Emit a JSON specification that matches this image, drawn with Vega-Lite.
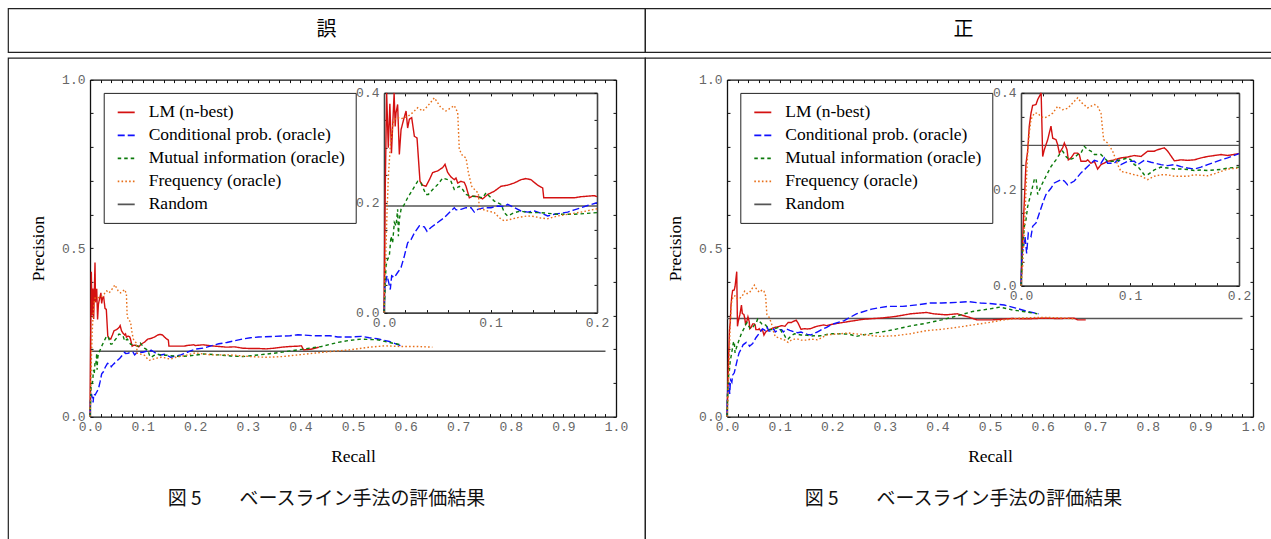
{
"$schema":"https://vega.github.io/schema/vega-lite/v6.json",
"padding":{"left":7,"top":7.4,"right":0,"bottom":0},
"config":{
 "view":{"stroke":"#222","strokeWidth":1.2},
 "font":"Liberation Serif",
 "axis":{"grid":false,"domainColor":"#111","domainWidth":1.3,"tickColor":"#111","tickWidth":1,"tickSize":-3,"labelFont":"Liberation Mono","labelFontSize":13,"labelColor":"#666","labelFlush":false,"labelOverlap":false,"titleFont":"Liberation Serif","titleFontSize":17.5,"titleFontWeight":"normal","titleColor":"#000"},
 "legend":{"symbolType":"stroke","symbolSize":289,"symbolStrokeWidth":1.6,"labelFont":"Liberation Serif","labelFontSize":17.5,"labelColor":"#000","labelLimit":500,"strokeColor":"#222","fillColor":"#fff","padding":10,"rowPadding":5,"labelOffset":13,"symbolOffset":3},
 "title":{"font":"Noto Sans CJK JP","fontSize":19,"fontWeight":"normal","color":"#111"}
},
"datasets":{"curves":[
{"panel":"L","series":"Random","recall":0,"precision":0.194},{"panel":"L","series":"Random","recall":0.2,"precision":0.194},{"panel":"L","series":"Random","recall":0.98,"precision":0.194},
{"panel":"R","series":"Random","recall":0,"precision":0.291},{"panel":"R","series":"Random","recall":0.2,"precision":0.291},{"panel":"R","series":"Random","recall":0.98,"precision":0.291},
{"panel":"L","series":"LM (n-best)","recall":0,"precision":0},{"panel":"L","series":"LM (n-best)","recall":0.0012,"precision":0.23},{"panel":"L","series":"LM (n-best)","recall":0.0025,"precision":0.43},{"panel":"L","series":"LM (n-best)","recall":0.004,"precision":0.30},{"panel":"L","series":"LM (n-best)","recall":0.0055,"precision":0.38},{"panel":"L","series":"LM (n-best)","recall":0.007,"precision":0.29},{"panel":"L","series":"LM (n-best)","recall":0.0095,"precision":0.457},{"panel":"L","series":"LM (n-best)","recall":0.0105,"precision":0.339},{"panel":"L","series":"LM (n-best)","recall":0.0113,"precision":0.364},{"panel":"L","series":"LM (n-best)","recall":0.0128,"precision":0.379},{"panel":"L","series":"LM (n-best)","recall":0.0144,"precision":0.288},{"panel":"L","series":"LM (n-best)","recall":0.016,"precision":0.333},{"panel":"L","series":"LM (n-best)","recall":0.0185,"precision":0.352},{"panel":"L","series":"LM (n-best)","recall":0.0207,"precision":0.367},{"panel":"L","series":"LM (n-best)","recall":0.0222,"precision":0.336},{"panel":"L","series":"LM (n-best)","recall":0.0238,"precision":0.352},{"panel":"L","series":"LM (n-best)","recall":0.026,"precision":0.355},{"panel":"L","series":"LM (n-best)","recall":0.0285,"precision":0.321},{"panel":"L","series":"LM (n-best)","recall":0.031,"precision":0.318},{"panel":"L","series":"LM (n-best)","recall":0.0338,"precision":0.239},{"panel":"L","series":"LM (n-best)","recall":0.0363,"precision":0.232},{"panel":"L","series":"LM (n-best)","recall":0.0394,"precision":0.23},{"panel":"L","series":"LM (n-best)","recall":0.0426,"precision":0.242},{"panel":"L","series":"LM (n-best)","recall":0.0457,"precision":0.255},{"panel":"L","series":"LM (n-best)","recall":0.0504,"precision":0.258},{"panel":"L","series":"LM (n-best)","recall":0.0551,"precision":0.264},{"panel":"L","series":"LM (n-best)","recall":0.0573,"precision":0.27},{"panel":"L","series":"LM (n-best)","recall":0.0598,"precision":0.255},{"panel":"L","series":"LM (n-best)","recall":0.0629,"precision":0.247},{"panel":"L","series":"LM (n-best)","recall":0.066,"precision":0.242},{"panel":"L","series":"LM (n-best)","recall":0.0676,"precision":0.245},{"panel":"L","series":"LM (n-best)","recall":0.0692,"precision":0.236},{"panel":"L","series":"LM (n-best)","recall":0.0723,"precision":0.239},{"panel":"L","series":"LM (n-best)","recall":0.0754,"precision":0.237},{"panel":"L","series":"LM (n-best)","recall":0.077,"precision":0.23},{"panel":"L","series":"LM (n-best)","recall":0.0801,"precision":0.209},{"panel":"L","series":"LM (n-best)","recall":0.0833,"precision":0.212},{"panel":"L","series":"LM (n-best)","recall":0.088,"precision":0.211},{"panel":"L","series":"LM (n-best)","recall":0.0926,"precision":0.207},{"panel":"L","series":"LM (n-best)","recall":0.0973,"precision":0.215},{"panel":"L","series":"LM (n-best)","recall":0.1036,"precision":0.221},{"panel":"L","series":"LM (n-best)","recall":0.1099,"precision":0.23},{"panel":"L","series":"LM (n-best)","recall":0.1161,"precision":0.232},{"panel":"L","series":"LM (n-best)","recall":0.1224,"precision":0.236},{"panel":"L","series":"LM (n-best)","recall":0.1286,"precision":0.242},{"panel":"L","series":"LM (n-best)","recall":0.1333,"precision":0.244},{"panel":"L","series":"LM (n-best)","recall":0.138,"precision":0.242},{"panel":"L","series":"LM (n-best)","recall":0.1443,"precision":0.232},{"panel":"L","series":"LM (n-best)","recall":0.149,"precision":0.227},{"panel":"L","series":"LM (n-best)","recall":0.15,"precision":0.209},{"panel":"L","series":"LM (n-best)","recall":0.1568,"precision":0.209},{"panel":"L","series":"LM (n-best)","recall":0.1662,"precision":0.209},{"panel":"L","series":"LM (n-best)","recall":0.1787,"precision":0.209},{"panel":"L","series":"LM (n-best)","recall":0.185,"precision":0.211},{"panel":"L","series":"LM (n-best)","recall":0.1912,"precision":0.212},{"panel":"L","series":"LM (n-best)","recall":0.1975,"precision":0.213},{"panel":"L","series":"LM (n-best)","recall":0.2,"precision":0.211},{"panel":"L","series":"LM (n-best)","recall":0.215,"precision":0.213},{"panel":"L","series":"LM (n-best)","recall":0.23,"precision":0.21},{"panel":"L","series":"LM (n-best)","recall":0.245,"precision":0.208},{"panel":"L","series":"LM (n-best)","recall":0.26,"precision":0.206},{"panel":"L","series":"LM (n-best)","recall":0.275,"precision":0.207},{"panel":"L","series":"LM (n-best)","recall":0.29,"precision":0.203},{"panel":"L","series":"LM (n-best)","recall":0.305,"precision":0.202},{"panel":"L","series":"LM (n-best)","recall":0.32,"precision":0.202},{"panel":"L","series":"LM (n-best)","recall":0.335,"precision":0.201},{"panel":"L","series":"LM (n-best)","recall":0.35,"precision":0.203},{"panel":"L","series":"LM (n-best)","recall":0.365,"precision":0.206},{"panel":"L","series":"LM (n-best)","recall":0.38,"precision":0.208},{"panel":"L","series":"LM (n-best)","recall":0.395,"precision":0.209},{"panel":"L","series":"LM (n-best)","recall":0.402,"precision":0.21},{"panel":"L","series":"LM (n-best)","recall":0.406,"precision":0.198},{"panel":"L","series":"LM (n-best)","recall":0.42,"precision":0.2},{"panel":"L","series":"LM (n-best)","recall":0.435,"precision":0.206},
{"panel":"L","series":"Conditional prob. (oracle)","recall":0,"precision":0},{"panel":"L","series":"Conditional prob. (oracle)","recall":0.0009,"precision":0.048},{"panel":"L","series":"Conditional prob. (oracle)","recall":0.0028,"precision":0.067},{"panel":"L","series":"Conditional prob. (oracle)","recall":0.0044,"precision":0.055},{"panel":"L","series":"Conditional prob. (oracle)","recall":0.0059,"precision":0.042},{"panel":"L","series":"Conditional prob. (oracle)","recall":0.0072,"precision":0.067},{"panel":"L","series":"Conditional prob. (oracle)","recall":0.0097,"precision":0.064},{"panel":"L","series":"Conditional prob. (oracle)","recall":0.0128,"precision":0.073},{"panel":"L","series":"Conditional prob. (oracle)","recall":0.016,"precision":0.082},{"panel":"L","series":"Conditional prob. (oracle)","recall":0.0191,"precision":0.103},{"panel":"L","series":"Conditional prob. (oracle)","recall":0.0222,"precision":0.127},{"panel":"L","series":"Conditional prob. (oracle)","recall":0.0254,"precision":0.133},{"panel":"L","series":"Conditional prob. (oracle)","recall":0.0285,"precision":0.145},{"panel":"L","series":"Conditional prob. (oracle)","recall":0.0332,"precision":0.158},{"panel":"L","series":"Conditional prob. (oracle)","recall":0.0379,"precision":0.156},{"panel":"L","series":"Conditional prob. (oracle)","recall":0.0404,"precision":0.148},{"panel":"L","series":"Conditional prob. (oracle)","recall":0.0441,"precision":0.155},{"panel":"L","series":"Conditional prob. (oracle)","recall":0.0504,"precision":0.164},{"panel":"L","series":"Conditional prob. (oracle)","recall":0.0567,"precision":0.173},{"panel":"L","series":"Conditional prob. (oracle)","recall":0.0629,"precision":0.185},{"panel":"L","series":"Conditional prob. (oracle)","recall":0.066,"precision":0.191},{"panel":"L","series":"Conditional prob. (oracle)","recall":0.0676,"precision":0.187},{"panel":"L","series":"Conditional prob. (oracle)","recall":0.0723,"precision":0.188},{"panel":"L","series":"Conditional prob. (oracle)","recall":0.077,"precision":0.191},{"panel":"L","series":"Conditional prob. (oracle)","recall":0.0817,"precision":0.191},{"panel":"L","series":"Conditional prob. (oracle)","recall":0.0848,"precision":0.183},{"panel":"L","series":"Conditional prob. (oracle)","recall":0.088,"precision":0.188},{"panel":"L","series":"Conditional prob. (oracle)","recall":0.0942,"precision":0.191},{"panel":"L","series":"Conditional prob. (oracle)","recall":0.1005,"precision":0.191},{"panel":"L","series":"Conditional prob. (oracle)","recall":0.1067,"precision":0.194},{"panel":"L","series":"Conditional prob. (oracle)","recall":0.113,"precision":0.193},{"panel":"L","series":"Conditional prob. (oracle)","recall":0.1161,"precision":0.197},{"panel":"L","series":"Conditional prob. (oracle)","recall":0.1224,"precision":0.191},{"panel":"L","series":"Conditional prob. (oracle)","recall":0.1286,"precision":0.185},{"panel":"L","series":"Conditional prob. (oracle)","recall":0.1349,"precision":0.183},{"panel":"L","series":"Conditional prob. (oracle)","recall":0.1412,"precision":0.185},{"panel":"L","series":"Conditional prob. (oracle)","recall":0.1474,"precision":0.181},{"panel":"L","series":"Conditional prob. (oracle)","recall":0.1537,"precision":0.176},{"panel":"L","series":"Conditional prob. (oracle)","recall":0.1599,"precision":0.179},{"panel":"L","series":"Conditional prob. (oracle)","recall":0.1662,"precision":0.181},{"panel":"L","series":"Conditional prob. (oracle)","recall":0.1725,"precision":0.183},{"panel":"L","series":"Conditional prob. (oracle)","recall":0.1787,"precision":0.187},{"panel":"L","series":"Conditional prob. (oracle)","recall":0.185,"precision":0.191},{"panel":"L","series":"Conditional prob. (oracle)","recall":0.1912,"precision":0.195},{"panel":"L","series":"Conditional prob. (oracle)","recall":0.2,"precision":0.2},{"panel":"L","series":"Conditional prob. (oracle)","recall":0.215,"precision":0.203},{"panel":"L","series":"Conditional prob. (oracle)","recall":0.23,"precision":0.21},{"panel":"L","series":"Conditional prob. (oracle)","recall":0.245,"precision":0.216},{"panel":"L","series":"Conditional prob. (oracle)","recall":0.26,"precision":0.22},{"panel":"L","series":"Conditional prob. (oracle)","recall":0.275,"precision":0.225},{"panel":"L","series":"Conditional prob. (oracle)","recall":0.29,"precision":0.23},{"panel":"L","series":"Conditional prob. (oracle)","recall":0.305,"precision":0.234},{"panel":"L","series":"Conditional prob. (oracle)","recall":0.32,"precision":0.236},{"panel":"L","series":"Conditional prob. (oracle)","recall":0.35,"precision":0.238},{"panel":"L","series":"Conditional prob. (oracle)","recall":0.38,"precision":0.24},{"panel":"L","series":"Conditional prob. (oracle)","recall":0.395,"precision":0.243},{"panel":"L","series":"Conditional prob. (oracle)","recall":0.425,"precision":0.24},{"panel":"L","series":"Conditional prob. (oracle)","recall":0.456,"precision":0.24},{"panel":"L","series":"Conditional prob. (oracle)","recall":0.471,"precision":0.236},{"panel":"L","series":"Conditional prob. (oracle)","recall":0.493,"precision":0.236},{"panel":"L","series":"Conditional prob. (oracle)","recall":0.516,"precision":0.238},{"panel":"L","series":"Conditional prob. (oracle)","recall":0.531,"precision":0.234},{"panel":"L","series":"Conditional prob. (oracle)","recall":0.546,"precision":0.231},{"panel":"L","series":"Conditional prob. (oracle)","recall":0.569,"precision":0.223},{"panel":"L","series":"Conditional prob. (oracle)","recall":0.591,"precision":0.21},
{"panel":"L","series":"Mutual information (oracle)","recall":0,"precision":0},{"panel":"L","series":"Mutual information (oracle)","recall":0.0019,"precision":0.085},{"panel":"L","series":"Mutual information (oracle)","recall":0.0034,"precision":0.097},{"panel":"L","series":"Mutual information (oracle)","recall":0.005,"precision":0.103},{"panel":"L","series":"Mutual information (oracle)","recall":0.0066,"precision":0.139},{"panel":"L","series":"Mutual information (oracle)","recall":0.0081,"precision":0.127},{"panel":"L","series":"Mutual information (oracle)","recall":0.0097,"precision":0.164},{"panel":"L","series":"Mutual information (oracle)","recall":0.0113,"precision":0.158},{"panel":"L","series":"Mutual information (oracle)","recall":0.0128,"precision":0.188},{"panel":"L","series":"Mutual information (oracle)","recall":0.0135,"precision":0.139},{"panel":"L","series":"Mutual information (oracle)","recall":0.0144,"precision":0.17},{"panel":"L","series":"Mutual information (oracle)","recall":0.016,"precision":0.188},{"panel":"L","series":"Mutual information (oracle)","recall":0.0191,"precision":0.197},{"panel":"L","series":"Mutual information (oracle)","recall":0.0222,"precision":0.209},{"panel":"L","series":"Mutual information (oracle)","recall":0.0269,"precision":0.224},{"panel":"L","series":"Mutual information (oracle)","recall":0.0316,"precision":0.239},{"panel":"L","series":"Mutual information (oracle)","recall":0.0347,"precision":0.236},{"panel":"L","series":"Mutual information (oracle)","recall":0.0394,"precision":0.215},{"panel":"L","series":"Mutual information (oracle)","recall":0.0416,"precision":0.215},{"panel":"L","series":"Mutual information (oracle)","recall":0.0457,"precision":0.224},{"panel":"L","series":"Mutual information (oracle)","recall":0.0504,"precision":0.233},{"panel":"L","series":"Mutual information (oracle)","recall":0.0551,"precision":0.245},{"panel":"L","series":"Mutual information (oracle)","recall":0.0598,"precision":0.242},{"panel":"L","series":"Mutual information (oracle)","recall":0.0629,"precision":0.239},{"panel":"L","series":"Mutual information (oracle)","recall":0.066,"precision":0.224},{"panel":"L","series":"Mutual information (oracle)","recall":0.0707,"precision":0.23},{"panel":"L","series":"Mutual information (oracle)","recall":0.0739,"precision":0.224},{"panel":"L","series":"Mutual information (oracle)","recall":0.077,"precision":0.215},{"panel":"L","series":"Mutual information (oracle)","recall":0.0817,"precision":0.212},{"panel":"L","series":"Mutual information (oracle)","recall":0.088,"precision":0.211},{"panel":"L","series":"Mutual information (oracle)","recall":0.0926,"precision":0.209},{"panel":"L","series":"Mutual information (oracle)","recall":0.0958,"precision":0.218},{"panel":"L","series":"Mutual information (oracle)","recall":0.0989,"precision":0.212},{"panel":"L","series":"Mutual information (oracle)","recall":0.1036,"precision":0.203},{"panel":"L","series":"Mutual information (oracle)","recall":0.1099,"precision":0.197},{"panel":"L","series":"Mutual information (oracle)","recall":0.113,"precision":0.182},{"panel":"L","series":"Mutual information (oracle)","recall":0.1161,"precision":0.176},{"panel":"L","series":"Mutual information (oracle)","recall":0.1224,"precision":0.182},{"panel":"L","series":"Mutual information (oracle)","recall":0.1286,"precision":0.185},{"panel":"L","series":"Mutual information (oracle)","recall":0.1349,"precision":0.182},{"panel":"L","series":"Mutual information (oracle)","recall":0.1474,"precision":0.182},{"panel":"L","series":"Mutual information (oracle)","recall":0.1631,"precision":0.179},{"panel":"L","series":"Mutual information (oracle)","recall":0.1787,"precision":0.179},{"panel":"L","series":"Mutual information (oracle)","recall":0.2,"precision":0.182},{"panel":"L","series":"Mutual information (oracle)","recall":0.215,"precision":0.186},{"panel":"L","series":"Mutual information (oracle)","recall":0.245,"precision":0.183},{"panel":"L","series":"Mutual information (oracle)","recall":0.267,"precision":0.18},{"panel":"L","series":"Mutual information (oracle)","recall":0.29,"precision":0.178},{"panel":"L","series":"Mutual information (oracle)","recall":0.32,"precision":0.183},{"panel":"L","series":"Mutual information (oracle)","recall":0.35,"precision":0.188},{"panel":"L","series":"Mutual information (oracle)","recall":0.395,"precision":0.198},{"panel":"L","series":"Mutual information (oracle)","recall":0.44,"precision":0.208},{"panel":"L","series":"Mutual information (oracle)","recall":0.471,"precision":0.22},{"panel":"L","series":"Mutual information (oracle)","recall":0.493,"precision":0.226},{"panel":"L","series":"Mutual information (oracle)","recall":0.516,"precision":0.23},{"panel":"L","series":"Mutual information (oracle)","recall":0.546,"precision":0.228},{"panel":"L","series":"Mutual information (oracle)","recall":0.569,"precision":0.22},{"panel":"L","series":"Mutual information (oracle)","recall":0.591,"precision":0.213},
{"panel":"L","series":"Frequency (oracle)","recall":0,"precision":0},{"panel":"L","series":"Frequency (oracle)","recall":0.0009,"precision":0.061},{"panel":"L","series":"Frequency (oracle)","recall":0.0019,"precision":0.121},{"panel":"L","series":"Frequency (oracle)","recall":0.0028,"precision":0.182},{"panel":"L","series":"Frequency (oracle)","recall":0.0041,"precision":0.248},{"panel":"L","series":"Frequency (oracle)","recall":0.0059,"precision":0.303},{"panel":"L","series":"Frequency (oracle)","recall":0.0081,"precision":0.339},{"panel":"L","series":"Frequency (oracle)","recall":0.0097,"precision":0.352},{"panel":"L","series":"Frequency (oracle)","recall":0.0128,"precision":0.355},{"panel":"L","series":"Frequency (oracle)","recall":0.016,"precision":0.353},{"panel":"L","series":"Frequency (oracle)","recall":0.0222,"precision":0.357},{"panel":"L","series":"Frequency (oracle)","recall":0.0269,"precision":0.364},{"panel":"L","series":"Frequency (oracle)","recall":0.0316,"precision":0.373},{"panel":"L","series":"Frequency (oracle)","recall":0.0363,"precision":0.367},{"panel":"L","series":"Frequency (oracle)","recall":0.041,"precision":0.376},{"panel":"L","series":"Frequency (oracle)","recall":0.0473,"precision":0.391},{"panel":"L","series":"Frequency (oracle)","recall":0.0535,"precision":0.373},{"panel":"L","series":"Frequency (oracle)","recall":0.0582,"precision":0.367},{"panel":"L","series":"Frequency (oracle)","recall":0.0629,"precision":0.373},{"panel":"L","series":"Frequency (oracle)","recall":0.066,"precision":0.377},{"panel":"L","series":"Frequency (oracle)","recall":0.0692,"precision":0.364},{"panel":"L","series":"Frequency (oracle)","recall":0.0707,"precision":0.297},{"panel":"L","series":"Frequency (oracle)","recall":0.0739,"precision":0.285},{"panel":"L","series":"Frequency (oracle)","recall":0.077,"precision":0.282},{"panel":"L","series":"Frequency (oracle)","recall":0.0792,"precision":0.255},{"panel":"L","series":"Frequency (oracle)","recall":0.0823,"precision":0.23},{"panel":"L","series":"Frequency (oracle)","recall":0.0864,"precision":0.221},{"panel":"L","series":"Frequency (oracle)","recall":0.0886,"precision":0.218},{"panel":"L","series":"Frequency (oracle)","recall":0.0895,"precision":0.188},{"panel":"L","series":"Frequency (oracle)","recall":0.0926,"precision":0.188},{"panel":"L","series":"Frequency (oracle)","recall":0.0973,"precision":0.185},{"panel":"L","series":"Frequency (oracle)","recall":0.1036,"precision":0.182},{"panel":"L","series":"Frequency (oracle)","recall":0.1067,"precision":0.176},{"panel":"L","series":"Frequency (oracle)","recall":0.1099,"precision":0.17},{"panel":"L","series":"Frequency (oracle)","recall":0.113,"precision":0.167},{"panel":"L","series":"Frequency (oracle)","recall":0.1192,"precision":0.17},{"panel":"L","series":"Frequency (oracle)","recall":0.1255,"precision":0.173},{"panel":"L","series":"Frequency (oracle)","recall":0.1349,"precision":0.176},{"panel":"L","series":"Frequency (oracle)","recall":0.1412,"precision":0.175},{"panel":"L","series":"Frequency (oracle)","recall":0.1474,"precision":0.172},{"panel":"L","series":"Frequency (oracle)","recall":0.1537,"precision":0.171},{"panel":"L","series":"Frequency (oracle)","recall":0.1631,"precision":0.176},{"panel":"L","series":"Frequency (oracle)","recall":0.1725,"precision":0.179},{"panel":"L","series":"Frequency (oracle)","recall":0.185,"precision":0.183},{"panel":"L","series":"Frequency (oracle)","recall":0.2,"precision":0.189},{"panel":"L","series":"Frequency (oracle)","recall":0.23,"precision":0.183},{"panel":"L","series":"Frequency (oracle)","recall":0.267,"precision":0.183},{"panel":"L","series":"Frequency (oracle)","recall":0.305,"precision":0.178},{"panel":"L","series":"Frequency (oracle)","recall":0.335,"precision":0.176},{"panel":"L","series":"Frequency (oracle)","recall":0.365,"precision":0.178},{"panel":"L","series":"Frequency (oracle)","recall":0.395,"precision":0.183},{"panel":"L","series":"Frequency (oracle)","recall":0.425,"precision":0.188},{"panel":"L","series":"Frequency (oracle)","recall":0.456,"precision":0.193},{"panel":"L","series":"Frequency (oracle)","recall":0.493,"precision":0.198},{"panel":"L","series":"Frequency (oracle)","recall":0.531,"precision":0.206},{"panel":"L","series":"Frequency (oracle)","recall":0.561,"precision":0.21},{"panel":"L","series":"Frequency (oracle)","recall":0.591,"precision":0.208},{"panel":"L","series":"Frequency (oracle)","recall":0.621,"precision":0.208},{"panel":"L","series":"Frequency (oracle)","recall":0.651,"precision":0.206},
{"panel":"R","series":"LM (n-best)","recall":0,"precision":0},{"panel":"R","series":"LM (n-best)","recall":0.0015,"precision":0.095},{"panel":"R","series":"LM (n-best)","recall":0.0031,"precision":0.178},{"panel":"R","series":"LM (n-best)","recall":0.0046,"precision":0.254},{"panel":"R","series":"LM (n-best)","recall":0.0061,"precision":0.279},{"panel":"R","series":"LM (n-best)","recall":0.0076,"precision":0.331},{"panel":"R","series":"LM (n-best)","recall":0.0092,"precision":0.358},{"panel":"R","series":"LM (n-best)","recall":0.0107,"precision":0.374},{"panel":"R","series":"LM (n-best)","recall":0.0138,"precision":0.376},{"panel":"R","series":"LM (n-best)","recall":0.0153,"precision":0.386},{"panel":"R","series":"LM (n-best)","recall":0.0185,"precision":0.43},{"panel":"R","series":"LM (n-best)","recall":0.0199,"precision":0.268},{"panel":"R","series":"LM (n-best)","recall":0.0214,"precision":0.282},{"panel":"R","series":"LM (n-best)","recall":0.0245,"precision":0.303},{"panel":"R","series":"LM (n-best)","recall":0.0275,"precision":0.331},{"panel":"R","series":"LM (n-best)","recall":0.0291,"precision":0.306},{"panel":"R","series":"LM (n-best)","recall":0.0321,"precision":0.303},{"panel":"R","series":"LM (n-best)","recall":0.0336,"precision":0.293},{"panel":"R","series":"LM (n-best)","recall":0.0352,"precision":0.275},{"panel":"R","series":"LM (n-best)","recall":0.0382,"precision":0.286},{"panel":"R","series":"LM (n-best)","recall":0.0398,"precision":0.296},{"panel":"R","series":"LM (n-best)","recall":0.0422,"precision":0.282},{"panel":"R","series":"LM (n-best)","recall":0.0434,"precision":0.261},{"panel":"R","series":"LM (n-best)","recall":0.0459,"precision":0.265},{"panel":"R","series":"LM (n-best)","recall":0.0489,"precision":0.275},{"panel":"R","series":"LM (n-best)","recall":0.052,"precision":0.275},{"panel":"R","series":"LM (n-best)","recall":0.0535,"precision":0.272},{"panel":"R","series":"LM (n-best)","recall":0.055,"precision":0.258},{"panel":"R","series":"LM (n-best)","recall":0.0596,"precision":0.258},{"panel":"R","series":"LM (n-best)","recall":0.0612,"precision":0.261},{"panel":"R","series":"LM (n-best)","recall":0.0642,"precision":0.254},{"panel":"R","series":"LM (n-best)","recall":0.0673,"precision":0.258},{"panel":"R","series":"LM (n-best)","recall":0.0703,"precision":0.242},{"panel":"R","series":"LM (n-best)","recall":0.0734,"precision":0.251},{"panel":"R","series":"LM (n-best)","recall":0.0795,"precision":0.258},{"panel":"R","series":"LM (n-best)","recall":0.0856,"precision":0.261},{"panel":"R","series":"LM (n-best)","recall":0.0917,"precision":0.265},{"panel":"R","series":"LM (n-best)","recall":0.0979,"precision":0.267},{"panel":"R","series":"LM (n-best)","recall":0.104,"precision":0.27},{"panel":"R","series":"LM (n-best)","recall":0.1101,"precision":0.268},{"panel":"R","series":"LM (n-best)","recall":0.1162,"precision":0.279},{"panel":"R","series":"LM (n-best)","recall":0.1223,"precision":0.279},{"panel":"R","series":"LM (n-best)","recall":0.1254,"precision":0.282},{"panel":"R","series":"LM (n-best)","recall":0.1315,"precision":0.286},{"panel":"R","series":"LM (n-best)","recall":0.1346,"precision":0.279},{"panel":"R","series":"LM (n-best)","recall":0.1407,"precision":0.259},{"panel":"R","series":"LM (n-best)","recall":0.1468,"precision":0.261},{"panel":"R","series":"LM (n-best)","recall":0.1529,"precision":0.26},{"panel":"R","series":"LM (n-best)","recall":0.159,"precision":0.261},{"panel":"R","series":"LM (n-best)","recall":0.1651,"precision":0.265},{"panel":"R","series":"LM (n-best)","recall":0.1713,"precision":0.268},{"panel":"R","series":"LM (n-best)","recall":0.1774,"precision":0.27},{"panel":"R","series":"LM (n-best)","recall":0.1835,"precision":0.272},{"panel":"R","series":"LM (n-best)","recall":0.1896,"precision":0.27},{"panel":"R","series":"LM (n-best)","recall":0.2,"precision":0.274},{"panel":"R","series":"LM (n-best)","recall":0.231,"precision":0.282},{"panel":"R","series":"LM (n-best)","recall":0.26,"precision":0.289},{"panel":"R","series":"LM (n-best)","recall":0.29,"precision":0.292},{"panel":"R","series":"LM (n-best)","recall":0.32,"precision":0.297},{"panel":"R","series":"LM (n-best)","recall":0.349,"precision":0.305},{"panel":"R","series":"LM (n-best)","recall":0.379,"precision":0.309},{"panel":"R","series":"LM (n-best)","recall":0.393,"precision":0.305},{"panel":"R","series":"LM (n-best)","recall":0.416,"precision":0.302},{"panel":"R","series":"LM (n-best)","recall":0.438,"precision":0.305},{"panel":"R","series":"LM (n-best)","recall":0.46,"precision":0.295},{"panel":"R","series":"LM (n-best)","recall":0.475,"precision":0.287},{"panel":"R","series":"LM (n-best)","recall":0.504,"precision":0.287},{"panel":"R","series":"LM (n-best)","recall":0.541,"precision":0.291},{"panel":"R","series":"LM (n-best)","recall":0.571,"precision":0.29},{"panel":"R","series":"LM (n-best)","recall":0.601,"precision":0.292},{"panel":"R","series":"LM (n-best)","recall":0.63,"precision":0.291},{"panel":"R","series":"LM (n-best)","recall":0.66,"precision":0.292},{"panel":"R","series":"LM (n-best)","recall":0.667,"precision":0.287},{"panel":"R","series":"LM (n-best)","recall":0.682,"precision":0.287},
{"panel":"R","series":"Conditional prob. (oracle)","recall":0,"precision":0},{"panel":"R","series":"Conditional prob. (oracle)","recall":0.0009,"precision":0.067},{"panel":"R","series":"Conditional prob. (oracle)","recall":0.0024,"precision":0.081},{"panel":"R","series":"Conditional prob. (oracle)","recall":0.0037,"precision":0.102},{"panel":"R","series":"Conditional prob. (oracle)","recall":0.0052,"precision":0.067},{"panel":"R","series":"Conditional prob. (oracle)","recall":0.0067,"precision":0.109},{"panel":"R","series":"Conditional prob. (oracle)","recall":0.0092,"precision":0.102},{"panel":"R","series":"Conditional prob. (oracle)","recall":0.0107,"precision":0.123},{"panel":"R","series":"Conditional prob. (oracle)","recall":0.0138,"precision":0.13},{"panel":"R","series":"Conditional prob. (oracle)","recall":0.0168,"precision":0.15},{"panel":"R","series":"Conditional prob. (oracle)","recall":0.0199,"precision":0.171},{"panel":"R","series":"Conditional prob. (oracle)","recall":0.0229,"precision":0.189},{"panel":"R","series":"Conditional prob. (oracle)","recall":0.0275,"precision":0.202},{"panel":"R","series":"Conditional prob. (oracle)","recall":0.0306,"precision":0.213},{"panel":"R","series":"Conditional prob. (oracle)","recall":0.0367,"precision":0.22},{"panel":"R","series":"Conditional prob. (oracle)","recall":0.0398,"precision":0.217},{"panel":"R","series":"Conditional prob. (oracle)","recall":0.0428,"precision":0.209},{"panel":"R","series":"Conditional prob. (oracle)","recall":0.0489,"precision":0.217},{"panel":"R","series":"Conditional prob. (oracle)","recall":0.055,"precision":0.234},{"panel":"R","series":"Conditional prob. (oracle)","recall":0.0612,"precision":0.247},{"panel":"R","series":"Conditional prob. (oracle)","recall":0.0673,"precision":0.26},{"panel":"R","series":"Conditional prob. (oracle)","recall":0.0703,"precision":0.258},{"panel":"R","series":"Conditional prob. (oracle)","recall":0.0734,"precision":0.254},{"panel":"R","series":"Conditional prob. (oracle)","recall":0.0765,"precision":0.265},{"panel":"R","series":"Conditional prob. (oracle)","recall":0.0795,"precision":0.254},{"panel":"R","series":"Conditional prob. (oracle)","recall":0.0856,"precision":0.254},{"panel":"R","series":"Conditional prob. (oracle)","recall":0.0887,"precision":0.261},{"panel":"R","series":"Conditional prob. (oracle)","recall":0.0917,"precision":0.251},{"panel":"R","series":"Conditional prob. (oracle)","recall":0.0979,"precision":0.258},{"panel":"R","series":"Conditional prob. (oracle)","recall":0.104,"precision":0.258},{"panel":"R","series":"Conditional prob. (oracle)","recall":0.107,"precision":0.251},{"panel":"R","series":"Conditional prob. (oracle)","recall":0.1131,"precision":0.26},{"panel":"R","series":"Conditional prob. (oracle)","recall":0.1193,"precision":0.256},{"panel":"R","series":"Conditional prob. (oracle)","recall":0.1284,"precision":0.251},{"panel":"R","series":"Conditional prob. (oracle)","recall":0.1346,"precision":0.249},{"panel":"R","series":"Conditional prob. (oracle)","recall":0.1407,"precision":0.251},{"panel":"R","series":"Conditional prob. (oracle)","recall":0.1468,"precision":0.247},{"panel":"R","series":"Conditional prob. (oracle)","recall":0.1529,"precision":0.244},{"panel":"R","series":"Conditional prob. (oracle)","recall":0.159,"precision":0.242},{"panel":"R","series":"Conditional prob. (oracle)","recall":0.1651,"precision":0.246},{"panel":"R","series":"Conditional prob. (oracle)","recall":0.1713,"precision":0.251},{"panel":"R","series":"Conditional prob. (oracle)","recall":0.1774,"precision":0.256},{"panel":"R","series":"Conditional prob. (oracle)","recall":0.1835,"precision":0.261},{"panel":"R","series":"Conditional prob. (oracle)","recall":0.1896,"precision":0.265},{"panel":"R","series":"Conditional prob. (oracle)","recall":0.2,"precision":0.274},{"panel":"R","series":"Conditional prob. (oracle)","recall":0.223,"precision":0.285},{"panel":"R","series":"Conditional prob. (oracle)","recall":0.246,"precision":0.305},{"panel":"R","series":"Conditional prob. (oracle)","recall":0.275,"precision":0.319},{"panel":"R","series":"Conditional prob. (oracle)","recall":0.305,"precision":0.327},{"panel":"R","series":"Conditional prob. (oracle)","recall":0.334,"precision":0.327},{"panel":"R","series":"Conditional prob. (oracle)","recall":0.364,"precision":0.332},{"panel":"R","series":"Conditional prob. (oracle)","recall":0.386,"precision":0.337},{"panel":"R","series":"Conditional prob. (oracle)","recall":0.408,"precision":0.337},{"panel":"R","series":"Conditional prob. (oracle)","recall":0.438,"precision":0.339},{"panel":"R","series":"Conditional prob. (oracle)","recall":0.46,"precision":0.341},{"panel":"R","series":"Conditional prob. (oracle)","recall":0.482,"precision":0.337},{"panel":"R","series":"Conditional prob. (oracle)","recall":0.504,"precision":0.335},{"panel":"R","series":"Conditional prob. (oracle)","recall":0.527,"precision":0.331},{"panel":"R","series":"Conditional prob. (oracle)","recall":0.549,"precision":0.322},{"panel":"R","series":"Conditional prob. (oracle)","recall":0.571,"precision":0.312},{"panel":"R","series":"Conditional prob. (oracle)","recall":0.593,"precision":0.305},
{"panel":"R","series":"Mutual information (oracle)","recall":0,"precision":0},{"panel":"R","series":"Mutual information (oracle)","recall":0.0015,"precision":0.08},{"panel":"R","series":"Mutual information (oracle)","recall":0.0031,"precision":0.123},{"panel":"R","series":"Mutual information (oracle)","recall":0.0046,"precision":0.137},{"panel":"R","series":"Mutual information (oracle)","recall":0.0061,"precision":0.164},{"panel":"R","series":"Mutual information (oracle)","recall":0.0092,"precision":0.192},{"panel":"R","series":"Mutual information (oracle)","recall":0.0107,"precision":0.206},{"panel":"R","series":"Mutual information (oracle)","recall":0.0122,"precision":0.22},{"panel":"R","series":"Mutual information (oracle)","recall":0.0138,"precision":0.223},{"panel":"R","series":"Mutual information (oracle)","recall":0.0153,"precision":0.189},{"panel":"R","series":"Mutual information (oracle)","recall":0.0183,"precision":0.206},{"panel":"R","series":"Mutual information (oracle)","recall":0.0229,"precision":0.227},{"panel":"R","series":"Mutual information (oracle)","recall":0.0275,"precision":0.247},{"panel":"R","series":"Mutual information (oracle)","recall":0.0321,"precision":0.261},{"panel":"R","series":"Mutual information (oracle)","recall":0.0352,"precision":0.272},{"panel":"R","series":"Mutual information (oracle)","recall":0.0382,"precision":0.279},{"panel":"R","series":"Mutual information (oracle)","recall":0.0413,"precision":0.268},{"panel":"R","series":"Mutual information (oracle)","recall":0.0443,"precision":0.261},{"panel":"R","series":"Mutual information (oracle)","recall":0.0489,"precision":0.265},{"panel":"R","series":"Mutual information (oracle)","recall":0.052,"precision":0.272},{"panel":"R","series":"Mutual information (oracle)","recall":0.055,"precision":0.275},{"panel":"R","series":"Mutual information (oracle)","recall":0.0581,"precision":0.289},{"panel":"R","series":"Mutual information (oracle)","recall":0.0612,"precision":0.282},{"panel":"R","series":"Mutual information (oracle)","recall":0.0642,"precision":0.279},{"panel":"R","series":"Mutual information (oracle)","recall":0.0673,"precision":0.272},{"panel":"R","series":"Mutual information (oracle)","recall":0.0734,"precision":0.272},{"panel":"R","series":"Mutual information (oracle)","recall":0.0795,"precision":0.258},{"panel":"R","series":"Mutual information (oracle)","recall":0.0856,"precision":0.258},{"panel":"R","series":"Mutual information (oracle)","recall":0.0917,"precision":0.261},{"panel":"R","series":"Mutual information (oracle)","recall":0.0979,"precision":0.265},{"panel":"R","series":"Mutual information (oracle)","recall":0.1009,"precision":0.261},{"panel":"R","series":"Mutual information (oracle)","recall":0.104,"precision":0.251},{"panel":"R","series":"Mutual information (oracle)","recall":0.107,"precision":0.248},{"panel":"R","series":"Mutual information (oracle)","recall":0.1131,"precision":0.23},{"panel":"R","series":"Mutual information (oracle)","recall":0.1162,"precision":0.23},{"panel":"R","series":"Mutual information (oracle)","recall":0.1223,"precision":0.24},{"panel":"R","series":"Mutual information (oracle)","recall":0.1284,"precision":0.246},{"panel":"R","series":"Mutual information (oracle)","recall":0.1346,"precision":0.244},{"panel":"R","series":"Mutual information (oracle)","recall":0.1407,"precision":0.242},{"panel":"R","series":"Mutual information (oracle)","recall":0.1468,"precision":0.242},{"panel":"R","series":"Mutual information (oracle)","recall":0.1529,"precision":0.241},{"panel":"R","series":"Mutual information (oracle)","recall":0.159,"precision":0.239},{"panel":"R","series":"Mutual information (oracle)","recall":0.1651,"precision":0.24},{"panel":"R","series":"Mutual information (oracle)","recall":0.1713,"precision":0.239},{"panel":"R","series":"Mutual information (oracle)","recall":0.1774,"precision":0.24},{"panel":"R","series":"Mutual information (oracle)","recall":0.1835,"precision":0.241},{"panel":"R","series":"Mutual information (oracle)","recall":0.1896,"precision":0.244},{"panel":"R","series":"Mutual information (oracle)","recall":0.2,"precision":0.246},{"panel":"R","series":"Mutual information (oracle)","recall":0.231,"precision":0.245},{"panel":"R","series":"Mutual information (oracle)","recall":0.246,"precision":0.238},{"panel":"R","series":"Mutual information (oracle)","recall":0.26,"precision":0.243},{"panel":"R","series":"Mutual information (oracle)","recall":0.29,"precision":0.25},{"panel":"R","series":"Mutual information (oracle)","recall":0.32,"precision":0.259},{"panel":"R","series":"Mutual information (oracle)","recall":0.349,"precision":0.269},{"panel":"R","series":"Mutual information (oracle)","recall":0.379,"precision":0.277},{"panel":"R","series":"Mutual information (oracle)","recall":0.408,"precision":0.287},{"panel":"R","series":"Mutual information (oracle)","recall":0.438,"precision":0.299},{"panel":"R","series":"Mutual information (oracle)","recall":0.467,"precision":0.312},{"panel":"R","series":"Mutual information (oracle)","recall":0.497,"precision":0.319},{"panel":"R","series":"Mutual information (oracle)","recall":0.519,"precision":0.325},{"panel":"R","series":"Mutual information (oracle)","recall":0.541,"precision":0.317},{"panel":"R","series":"Mutual information (oracle)","recall":0.563,"precision":0.312},{"panel":"R","series":"Mutual information (oracle)","recall":0.59,"precision":0.305},
{"panel":"R","series":"Frequency (oracle)","recall":0,"precision":0},{"panel":"R","series":"Frequency (oracle)","recall":0.0015,"precision":0.039},{"panel":"R","series":"Frequency (oracle)","recall":0.0031,"precision":0.116},{"panel":"R","series":"Frequency (oracle)","recall":0.0046,"precision":0.199},{"panel":"R","series":"Frequency (oracle)","recall":0.0061,"precision":0.275},{"panel":"R","series":"Frequency (oracle)","recall":0.0076,"precision":0.317},{"panel":"R","series":"Frequency (oracle)","recall":0.0092,"precision":0.345},{"panel":"R","series":"Frequency (oracle)","recall":0.0122,"precision":0.358},{"panel":"R","series":"Frequency (oracle)","recall":0.0153,"precision":0.358},{"panel":"R","series":"Frequency (oracle)","recall":0.0183,"precision":0.351},{"panel":"R","series":"Frequency (oracle)","recall":0.0214,"precision":0.348},{"panel":"R","series":"Frequency (oracle)","recall":0.0245,"precision":0.351},{"panel":"R","series":"Frequency (oracle)","recall":0.0291,"precision":0.358},{"panel":"R","series":"Frequency (oracle)","recall":0.0336,"precision":0.372},{"panel":"R","series":"Frequency (oracle)","recall":0.0382,"precision":0.365},{"panel":"R","series":"Frequency (oracle)","recall":0.0428,"precision":0.368},{"panel":"R","series":"Frequency (oracle)","recall":0.0474,"precision":0.379},{"panel":"R","series":"Frequency (oracle)","recall":0.052,"precision":0.39},{"panel":"R","series":"Frequency (oracle)","recall":0.055,"precision":0.381},{"panel":"R","series":"Frequency (oracle)","recall":0.0612,"precision":0.369},{"panel":"R","series":"Frequency (oracle)","recall":0.0673,"precision":0.376},{"panel":"R","series":"Frequency (oracle)","recall":0.0703,"precision":0.372},{"panel":"R","series":"Frequency (oracle)","recall":0.0734,"precision":0.358},{"panel":"R","series":"Frequency (oracle)","recall":0.0758,"precision":0.303},{"panel":"R","series":"Frequency (oracle)","recall":0.0795,"precision":0.296},{"panel":"R","series":"Frequency (oracle)","recall":0.0841,"precision":0.279},{"panel":"R","series":"Frequency (oracle)","recall":0.0887,"precision":0.251},{"panel":"R","series":"Frequency (oracle)","recall":0.0917,"precision":0.237},{"panel":"R","series":"Frequency (oracle)","recall":0.0979,"precision":0.234},{"panel":"R","series":"Frequency (oracle)","recall":0.104,"precision":0.23},{"panel":"R","series":"Frequency (oracle)","recall":0.1101,"precision":0.227},{"panel":"R","series":"Frequency (oracle)","recall":0.1162,"precision":0.22},{"panel":"R","series":"Frequency (oracle)","recall":0.1223,"precision":0.227},{"panel":"R","series":"Frequency (oracle)","recall":0.1284,"precision":0.23},{"panel":"R","series":"Frequency (oracle)","recall":0.1346,"precision":0.23},{"panel":"R","series":"Frequency (oracle)","recall":0.1407,"precision":0.227},{"panel":"R","series":"Frequency (oracle)","recall":0.1468,"precision":0.227},{"panel":"R","series":"Frequency (oracle)","recall":0.1529,"precision":0.227},{"panel":"R","series":"Frequency (oracle)","recall":0.159,"precision":0.23},{"panel":"R","series":"Frequency (oracle)","recall":0.1651,"precision":0.229},{"panel":"R","series":"Frequency (oracle)","recall":0.1713,"precision":0.228},{"panel":"R","series":"Frequency (oracle)","recall":0.1774,"precision":0.232},{"panel":"R","series":"Frequency (oracle)","recall":0.1835,"precision":0.237},{"panel":"R","series":"Frequency (oracle)","recall":0.1896,"precision":0.242},{"panel":"R","series":"Frequency (oracle)","recall":0.2,"precision":0.244},{"panel":"R","series":"Frequency (oracle)","recall":0.231,"precision":0.248},{"panel":"R","series":"Frequency (oracle)","recall":0.26,"precision":0.243},{"panel":"R","series":"Frequency (oracle)","recall":0.29,"precision":0.238},{"panel":"R","series":"Frequency (oracle)","recall":0.32,"precision":0.24},{"panel":"R","series":"Frequency (oracle)","recall":0.349,"precision":0.246},{"panel":"R","series":"Frequency (oracle)","recall":0.379,"precision":0.255},{"panel":"R","series":"Frequency (oracle)","recall":0.408,"precision":0.259},{"panel":"R","series":"Frequency (oracle)","recall":0.438,"precision":0.265},{"panel":"R","series":"Frequency (oracle)","recall":0.467,"precision":0.272},{"panel":"R","series":"Frequency (oracle)","recall":0.497,"precision":0.279},{"panel":"R","series":"Frequency (oracle)","recall":0.527,"precision":0.287},{"panel":"R","series":"Frequency (oracle)","recall":0.556,"precision":0.292},{"panel":"R","series":"Frequency (oracle)","recall":0.586,"precision":0.294},{"panel":"R","series":"Frequency (oracle)","recall":0.615,"precision":0.294},{"panel":"R","series":"Frequency (oracle)","recall":0.645,"precision":0.292},{"panel":"R","series":"Frequency (oracle)","recall":0.66,"precision":0.29}
]},
"spacing":3.5,
"resolve":{"scale":{"color":"independent","strokeDash":"independent"}},
"vconcat":[
 {"hconcat":[
   {"width":637,"height":43.7,"view":{"stroke":"#222","strokeWidth":1.2},"data":{"values":[{"label":"誤"}]},"mark":{"type":"text","font":"Noto Sans CJK JP","fontSize":20,"color":"#000"},"encoding":{"text":{"field":"label","type":"nominal"}}},
   {"width":637,"height":43.7,"view":{"stroke":"#222","strokeWidth":1.2},"data":{"values":[{"label":"正"}]},"mark":{"type":"text","font":"Noto Sans CJK JP","fontSize":20,"color":"#000"},"encoding":{"text":{"field":"label","type":"nominal"}}}
 ],"spacing":0,"bounds":"flush"},
 {"hconcat":[
  {"width":637,"height":490,"data":{"name":"curves"},
   "title":{"text":"図 5　　ベースライン手法の評価結果","orient":"bottom","offset":-57.5,"anchor":"middle"},
   "layer":[
    {"layer":[
      {"transform":[{"filter":"datum.panel === 'L'"}],
       "mark":{"type":"line","strokeWidth":1.4},
       "encoding":{
        "x":{"field":"recall","type":"quantitative","scale":{"domain":[0,1],"range":[82,608],"nice":false,"zero":false},
             "axis":{"orient":"bottom","offset":-131.3,"values":[0,0.02,0.04,0.06,0.08,0.1,0.12,0.14,0.16,0.18,0.2,0.22,0.24,0.26,0.28,0.3,0.32,0.34,0.36,0.38,0.4,0.42,0.44,0.46,0.48,0.5,0.52,0.54,0.56,0.58,0.6,0.62,0.64,0.66,0.68,0.7,0.72,0.74,0.76,0.78,0.8,0.82,0.84,0.86,0.88,0.9,0.92,0.94,0.96,0.98,1],"labelExpr":"abs(datum.value*10-round(datum.value*10))<0.001 ? format(datum.value,'.1f') : ''","labelPadding":7,"title":"Recall","titlePadding":14}},
        "y":{"field":"precision","type":"quantitative","scale":{"domain":[0,1],"range":[358.7,21.7],"nice":false,"zero":false},
             "axis":{"orient":"left","offset":-82,"values":[0,0.1,0.2,0.3,0.4,0.5,0.6,0.7,0.8,0.9,1],"labelExpr":"abs(datum.value*2-round(datum.value*2))<0.001 ? format(datum.value,'.1f') : ''","labelPadding":8,"title":"Precision","titlePadding":14}},
        "color":{"field":"series","type":"nominal","scale":{"domain":["LM (n-best)","Conditional prob. (oracle)","Mutual information (oracle)","Frequency (oracle)","Random"],"range":["#d41111","#1010ff","#0b7a0b","#e8701a","#555555"]},"legend":{"title":null,"orient":"none","legendX":95.7,"legendY":35}},
        "strokeDash":{"field":"series","type":"nominal","scale":{"domain":["LM (n-best)","Conditional prob. (oracle)","Mutual information (oracle)","Frequency (oracle)","Random"],"range":[[1,0],[7,3],[3.5,3],[1.6,2.2],[1,0]]},"legend":{"title":null,"orient":"none","legendX":95.7,"legendY":35}}
       }},
      {"transform":[{"filter":"datum.panel === 'L' && datum.series === 'Random'"}],
       "mark":{"type":"point","opacity":0},
       "encoding":{
        "x":{"field":"recall","type":"quantitative","axis":{"orient":"top","offset":-21.7,"values":[0,0.02,0.04,0.06,0.08,0.1,0.12,0.14,0.16,0.18,0.2,0.22,0.24,0.26,0.28,0.3,0.32,0.34,0.36,0.38,0.4,0.42,0.44,0.46,0.48,0.5,0.52,0.54,0.56,0.58,0.6,0.62,0.64,0.66,0.68,0.7,0.72,0.74,0.76,0.78,0.8,0.82,0.84,0.86,0.88,0.9,0.92,0.94,0.96,0.98,1],"labels":false,"title":null}},
        "y":{"field":"precision","type":"quantitative","axis":{"orient":"right","offset":-29,"values":[0,0.1,0.2,0.3,0.4,0.5,0.6,0.7,0.8,0.9,1],"labels":false,"title":null}}
       }}
     ],
     "resolve":{"axis":{"x":"independent","y":"independent"}}},
    {"layer":[
      {"transform":[{"filter":"datum.panel === 'L' && datum.recall <= 0.2001"}],
       "mark":{"type":"line","strokeWidth":1.4},
       "encoding":{
        "x":{"field":"recall","type":"quantitative","scale":{"domain":[0,0.2],"range":[376,589],"nice":false,"zero":false},
             "axis":{"orient":"bottom","offset":-235.3,"values":[0,0.02,0.04,0.06,0.08,0.1,0.12,0.14,0.16,0.18,0.2],"labelExpr":"abs(datum.value*10-round(datum.value*10))<0.001 ? format(datum.value,'.1f') : ''","labelPadding":7,"title":null,"domainColor":"#444","domainWidth":1.6}},
        "y":{"field":"precision","type":"quantitative","scale":{"domain":[0,0.4],"range":[254.7,35],"nice":false,"zero":false,"clamp":true},
             "axis":{"orient":"left","offset":-376,"values":[0,0.05,0.1,0.15,0.2,0.25,0.3,0.35,0.4],"labelExpr":"abs(datum.value*5-round(datum.value*5))<0.001 ? format(datum.value,'.1f') : ''","labelPadding":8,"title":null,"domainColor":"#444","domainWidth":1.6}},
        "color":{"field":"series","type":"nominal","legend":{"title":null,"orient":"none","legendX":95.7,"legendY":35}},
        "strokeDash":{"field":"series","type":"nominal","legend":{"title":null,"orient":"none","legendX":95.7,"legendY":35}}
       }},
      {"transform":[{"filter":"datum.panel === 'L' && datum.series === 'Random' && datum.recall <= 0.2001"}],
       "mark":{"type":"point","opacity":0},
       "encoding":{
        "x":{"field":"recall","type":"quantitative","axis":{"orient":"top","offset":-35,"values":[0,0.02,0.04,0.06,0.08,0.1,0.12,0.14,0.16,0.18,0.2],"labels":false,"title":null,"domainColor":"#444","domainWidth":1.6}},
        "y":{"field":"precision","type":"quantitative","axis":{"orient":"right","offset":-48,"values":[0,0.05,0.1,0.15,0.2,0.25,0.3,0.35,0.4],"labels":false,"title":null,"domainColor":"#444","domainWidth":1.6}}
       }}
     ],
     "resolve":{"axis":{"x":"independent","y":"independent"}}}
   ],
   "resolve":{"scale":{"x":"independent","y":"independent"}}},
  {"width":637,"height":490,"data":{"name":"curves"},
   "title":{"text":"図 5　　ベースライン手法の評価結果","orient":"bottom","offset":-57.5,"anchor":"middle"},
   "layer":[
    {"layer":[
      {"transform":[{"filter":"datum.panel === 'R'"}],
       "mark":{"type":"line","strokeWidth":1.4},
       "encoding":{
        "x":{"field":"recall","type":"quantitative","scale":{"domain":[0,1],"range":[82,608],"nice":false,"zero":false},
             "axis":{"orient":"bottom","offset":-131.3,"values":[0,0.02,0.04,0.06,0.08,0.1,0.12,0.14,0.16,0.18,0.2,0.22,0.24,0.26,0.28,0.3,0.32,0.34,0.36,0.38,0.4,0.42,0.44,0.46,0.48,0.5,0.52,0.54,0.56,0.58,0.6,0.62,0.64,0.66,0.68,0.7,0.72,0.74,0.76,0.78,0.8,0.82,0.84,0.86,0.88,0.9,0.92,0.94,0.96,0.98,1],"labelExpr":"abs(datum.value*10-round(datum.value*10))<0.001 ? format(datum.value,'.1f') : ''","labelPadding":7,"title":"Recall","titlePadding":14}},
        "y":{"field":"precision","type":"quantitative","scale":{"domain":[0,1],"range":[358.7,21.7],"nice":false,"zero":false},
             "axis":{"orient":"left","offset":-82,"values":[0,0.1,0.2,0.3,0.4,0.5,0.6,0.7,0.8,0.9,1],"labelExpr":"abs(datum.value*2-round(datum.value*2))<0.001 ? format(datum.value,'.1f') : ''","labelPadding":8,"title":"Precision","titlePadding":14}},
        "color":{"field":"series","type":"nominal","scale":{"domain":["LM (n-best)","Conditional prob. (oracle)","Mutual information (oracle)","Frequency (oracle)","Random"],"range":["#d41111","#1010ff","#0b7a0b","#e8701a","#555555"]},"legend":{"title":null,"orient":"none","legendX":95.3,"legendY":35}},
        "strokeDash":{"field":"series","type":"nominal","scale":{"domain":["LM (n-best)","Conditional prob. (oracle)","Mutual information (oracle)","Frequency (oracle)","Random"],"range":[[1,0],[7,3],[3.5,3],[1.6,2.2],[1,0]]},"legend":{"title":null,"orient":"none","legendX":95.3,"legendY":35}}
       }},
      {"transform":[{"filter":"datum.panel === 'R' && datum.series === 'Random'"}],
       "mark":{"type":"point","opacity":0},
       "encoding":{
        "x":{"field":"recall","type":"quantitative","axis":{"orient":"top","offset":-21.7,"values":[0,0.02,0.04,0.06,0.08,0.1,0.12,0.14,0.16,0.18,0.2,0.22,0.24,0.26,0.28,0.3,0.32,0.34,0.36,0.38,0.4,0.42,0.44,0.46,0.48,0.5,0.52,0.54,0.56,0.58,0.6,0.62,0.64,0.66,0.68,0.7,0.72,0.74,0.76,0.78,0.8,0.82,0.84,0.86,0.88,0.9,0.92,0.94,0.96,0.98,1],"labels":false,"title":null}},
        "y":{"field":"precision","type":"quantitative","axis":{"orient":"right","offset":-29,"values":[0,0.1,0.2,0.3,0.4,0.5,0.6,0.7,0.8,0.9,1],"labels":false,"title":null}}
       }}
     ],
     "resolve":{"axis":{"x":"independent","y":"independent"}}},
    {"layer":[
      {"transform":[{"filter":"datum.panel === 'R' && datum.recall <= 0.2001"}],
       "mark":{"type":"line","strokeWidth":1.4},
       "encoding":{
        "x":{"field":"recall","type":"quantitative","scale":{"domain":[0,0.2],"range":[376,594],"nice":false,"zero":false},
             "axis":{"orient":"bottom","offset":-262.3,"values":[0,0.02,0.04,0.06,0.08,0.1,0.12,0.14,0.16,0.18,0.2],"labelExpr":"abs(datum.value*10-round(datum.value*10))<0.001 ? format(datum.value,'.1f') : ''","labelPadding":7,"title":null,"domainColor":"#444","domainWidth":1.6}},
        "y":{"field":"precision","type":"quantitative","scale":{"domain":[0,0.4],"range":[227.7,35],"nice":false,"zero":false,"clamp":true},
             "axis":{"orient":"left","offset":-376,"values":[0,0.05,0.1,0.15,0.2,0.25,0.3,0.35,0.4],"labelExpr":"abs(datum.value*5-round(datum.value*5))<0.001 ? format(datum.value,'.1f') : ''","labelPadding":8,"title":null,"domainColor":"#444","domainWidth":1.6}},
        "color":{"field":"series","type":"nominal","legend":{"title":null,"orient":"none","legendX":95.3,"legendY":35}},
        "strokeDash":{"field":"series","type":"nominal","legend":{"title":null,"orient":"none","legendX":95.3,"legendY":35}}
       }},
      {"transform":[{"filter":"datum.panel === 'R' && datum.series === 'Random' && datum.recall <= 0.2001"}],
       "mark":{"type":"point","opacity":0},
       "encoding":{
        "x":{"field":"recall","type":"quantitative","axis":{"orient":"top","offset":-35,"values":[0,0.02,0.04,0.06,0.08,0.1,0.12,0.14,0.16,0.18,0.2],"labels":false,"title":null,"domainColor":"#444","domainWidth":1.6}},
        "y":{"field":"precision","type":"quantitative","axis":{"orient":"right","offset":-43,"values":[0,0.05,0.1,0.15,0.2,0.25,0.3,0.35,0.4],"labels":false,"title":null,"domainColor":"#444","domainWidth":1.6}}
       }}
     ],
     "resolve":{"axis":{"x":"independent","y":"independent"}}}
   ],
   "resolve":{"scale":{"x":"independent","y":"independent"}}}
 ],"spacing":0,"bounds":"flush","resolve":{"scale":{"color":"independent","strokeDash":"independent"}}}
]
}
